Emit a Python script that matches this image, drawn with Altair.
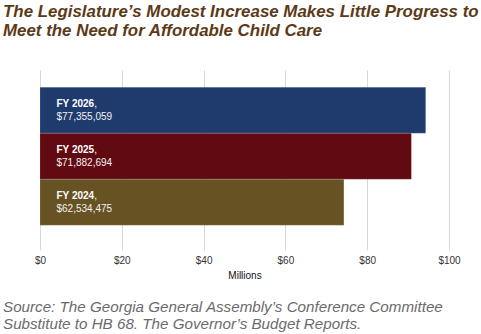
import altair as alt
import pandas as pd

years = ["FY 2026", "FY 2025", "FY 2024"]
values = [94.3, 90.8, 74.3]
amounts = ["$77,355,059", "$71,882,694", "$62,534,475"]
colors = ["#1F3B6E", "#620A12", "#665223"]

title_lines = ["The Legislature\u2019s Modest Increase Makes Little Progress to",
               "Meet the Need for Affordable Child Care"]
source_lines = ["Source: The Georgia General Assembly\u2019s Conference Committee",
                "Substitute to HB 68. The Governor\u2019s Budget Reports."]

df = pd.DataFrame({"year": years, "value": values, "amount": amounts})

FONT = "Liberation Sans"

y_enc = alt.Y("year:N", sort=years, axis=None,
              scale=alt.Scale(type="band", paddingInner=0, paddingOuter=0.457, align=0.41))

bars = alt.Chart(df).mark_bar(stroke="#ffffff", strokeOpacity=0.25, strokeWidth=0.5).encode(
    x=alt.X("value:Q", scale=alt.Scale(domain=[0, 100], nice=False),
            axis=alt.Axis(values=[0, 20, 40, 60, 80, 100], labelExpr="'$' + datum.value",
                          title="Millions", ticks=False, domain=False,
                          labelFlush=False,
                          labelPadding=5, titlePadding=5,
                          labelFont=FONT, labelFontSize=10, labelColor="#333333",
                          titleFont=FONT, titleFontSize=10, titleFontWeight="normal",
                          titleColor="#111111",
                          gridColor="#d9d9d9", gridWidth=1)),
    y=y_enc,
    color=alt.Color("year:N", scale=alt.Scale(domain=years, range=colors), legend=None),
)

name_txt = alt.Chart(df).mark_text(align="left", baseline="alphabetic", dy=-3,
                                   font=FONT, fontSize=10, fontWeight="bold",
                                   color="white").encode(
    x=alt.value(16.5), y=alt.Y("year:N", sort=years, bandPosition=0.5), text="year:N")

comma_txt = alt.Chart(df).mark_text(align="left", baseline="alphabetic", dy=-3,
                                    font=FONT, fontSize=10, color="white").encode(
    x=alt.value(54.3), y=alt.Y("year:N", sort=years, bandPosition=0.5), text=alt.value(","))

amt_txt = alt.Chart(df).mark_text(align="left", baseline="alphabetic", dy=9.7,
                                  font=FONT, fontSize=10, color="#f2f2f2").encode(
    x=alt.value(16.5), y=alt.Y("year:N", sort=years, bandPosition=0.5), text="amount:N")

one = pd.DataFrame({"k": [0]})
src1 = alt.Chart(one).mark_text(align="left", baseline="alphabetic",
                                font=FONT, fontSize=15.2, fontStyle="italic",
                                color="#6b6b6b").encode(
    x=alt.value(-37), y=alt.value(241.5), text=alt.value(source_lines[0]))
src2 = alt.Chart(one).mark_text(align="left", baseline="alphabetic",
                                font=FONT, fontSize=15.2, fontStyle="italic",
                                color="#6b6b6b").encode(
    x=alt.value(-37), y=alt.value(259), text=alt.value(source_lines[1]))

chart = alt.layer(bars, name_txt, comma_txt, amt_txt, src1, src2).properties(
    width=409, height=180,
    padding={"left": 40, "top": 70, "right": 32, "bottom": 84},
    autosize=alt.AutoSizeParams(type="none"),
    title=alt.TitleParams(text=title_lines, anchor="start", offset=17,
                          font=FONT, fontSize=16.9, fontStyle="italic",
                          fontWeight="bold", color="#5C3A17", lineHeight=19.5,
                          baseline="alphabetic"),
).configure_view(stroke=None)

chart.save("out.html", embed_options={"renderer": "svg", "actions": False})
